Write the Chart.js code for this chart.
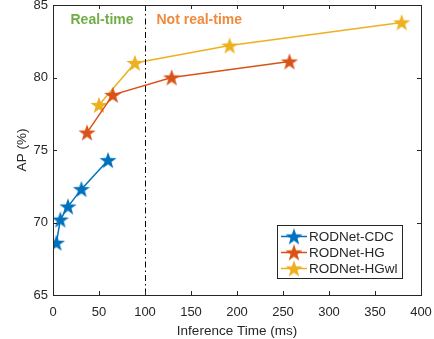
<!DOCTYPE html>
<html>
<head>
<meta charset="utf-8">
<script src="https://cdn.jsdelivr.net/npm/chart.js@4"></script>
<style>
  html, body { margin: 0; padding: 0; background: #fff; }
  #wrap { width: 434px; height: 339px; }
</style>
</head>
<body>
<div id="wrap"><canvas id="c"></canvas></div>
<script>
// data
const seriesNames = ["RODNet-CDC", "RODNet-HG", "RODNet-HGwl"];
const cdcTime = [3.7, 8.0, 16.3, 30.9, 59.8];
const cdcAP = [68.6, 70.2, 71.1, 72.3, 74.3];
const hgTime = [37, 65, 129, 257];
const hgAP = [76.2, 78.8, 80.0, 81.1];
const hgwlTime = [50, 89, 192, 379];
const hgwlAP = [78.1, 81.0, 82.2, 83.8];
const xTicks = [0, 50, 100, 150, 200, 250, 300, 350, 400];
const yTicks = [65, 70, 75, 80, 85];
const realTimeLimit = 100;

const colors = ["#0072BD", "#D95319", "#EDB120"];
const INK = "#262626";
const FONT = "Liberation Sans, Arial, Helvetica, sans-serif";

function starImage(color, r) {
  const s = Math.ceil(r * 2 + 2);
  const cv = document.createElement("canvas");
  cv.width = s; cv.height = s;
  const g = cv.getContext("2d");
  const cx = s / 2, cy = s / 2 + r * 0.08, ri = r * 0.4;
  g.beginPath();
  for (let i = 0; i < 10; i++) {
    const a = -Math.PI / 2 + i * Math.PI / 5;
    const rr = i % 2 === 0 ? r : ri;
    g.lineTo(cx + rr * Math.cos(a), cy + rr * Math.sin(a));
  }
  g.closePath();
  g.fillStyle = color;
  g.fill();
  return cv;
}

const stars = colors.map(c => starImage(c, 9));
const toPts = (xs, ys) => xs.map((x, i) => ({ x: x, y: ys[i] }));

const frame = {
  id: "frame",
  afterDraw(chart) {
    const ctx = chart.ctx, a = chart.chartArea;
    const xs = chart.scales.x, ys = chart.scales.y;
    ctx.save();
    // dash-dot boundary
    const px = Math.round(xs.getPixelForValue(realTimeLimit)) + 0.5;
    ctx.strokeStyle = "#000";
    ctx.lineWidth = 1;
    ctx.setLineDash([6, 3, 1.5, 3]);
    ctx.beginPath(); ctx.moveTo(px, a.top); ctx.lineTo(px, a.bottom); ctx.stroke();
    ctx.setLineDash([]);

    // box + inward ticks
    ctx.strokeStyle = INK;
    ctx.lineWidth = 1;
    ctx.strokeRect(Math.round(a.left) + 0.5, Math.round(a.top) + 0.5,
      Math.round(a.right - a.left), Math.round(a.bottom - a.top));
    ctx.beginPath();
    xTicks.forEach(v => {
      const x = Math.round(xs.getPixelForValue(v)) + 0.5;
      ctx.moveTo(x, a.bottom); ctx.lineTo(x, a.bottom - 4);
      ctx.moveTo(x, a.top); ctx.lineTo(x, a.top + 4);
    });
    yTicks.forEach(v => {
      const y = Math.round(ys.getPixelForValue(v)) + 0.5;
      ctx.moveTo(a.left, y); ctx.lineTo(a.left + 4, y);
      ctx.moveTo(a.right, y); ctx.lineTo(a.right - 4, y);
    });
    ctx.stroke();

    // region labels
    ctx.font = "bold 14px " + FONT;
    ctx.textBaseline = "middle";
    ctx.textAlign = "right";
    ctx.fillStyle = "#70AD47";
    ctx.fillText("Real-time", px - 12, a.top + 15);
    ctx.textAlign = "left";
    ctx.fillStyle = "#F08A3E";
    ctx.fillText("Not real-time", px + 11, a.top + 15);

    // legend
    const lx = 277, ly = 225, lw = 125, lh = 53;
    ctx.fillStyle = "#fff";
    ctx.fillRect(lx, ly, lw, lh);
    ctx.strokeStyle = INK;
    ctx.strokeRect(lx + 0.5, ly + 0.5, lw, lh);
    ctx.font = "13.5px " + FONT;
    ctx.textAlign = "left";
    seriesNames.forEach((name, i) => {
      const y = ly + 11.5 + i * 16;
      ctx.strokeStyle = colors[i];
      ctx.lineWidth = 1.5;
      ctx.beginPath(); ctx.moveTo(lx + 4, y); ctx.lineTo(lx + 30, y); ctx.stroke();
      const im = stars[i];
      ctx.drawImage(im, lx + 17 - im.width / 2, y - im.height / 2);
      ctx.fillStyle = INK;
      ctx.fillText(name, lx + 32, y + 1);
    });
    ctx.restore();
  }
};

const mkSet = (i, xs, ys) => ({
  label: seriesNames[i],
  data: toPts(xs, ys),
  showLine: true,
  borderColor: colors[i],
  backgroundColor: colors[i],
  borderWidth: 1.5,
  pointStyle: stars[i],
  pointRadius: 9,
  pointHoverRadius: 9
});

new Chart(document.getElementById("c"), {
  type: "scatter",
  data: {
    datasets: [
      mkSet(0, cdcTime, cdcAP),
      mkSet(1, hgTime, hgAP),
      mkSet(2, hgwlTime, hgwlAP)
    ]
  },
  options: {
    responsive: true,
    maintainAspectRatio: false,
    animation: false,
    layout: { autoPadding: false, padding: { left: 0, top: 5, right: 13, bottom: 0 } },
    plugins: { legend: { display: false }, tooltip: { enabled: false } },
    scales: {
      x: {
        type: "linear", min: 0, max: 400,
        afterBuildTicks: s => { s.ticks = xTicks.map(v => ({ value: v })); },
        grid: { display: false, drawTicks: false },
        border: { display: false },
        ticks: { color: INK, font: { family: FONT, size: 13 }, padding: 10, maxRotation: 0 },
        title: { display: true, text: "Inference Time (ms)", color: INK, font: { family: FONT, size: 13.5 }, padding: { top: 0, bottom: 0 } },
        afterFit: s => { s.height = 44; s.paddingLeft = 0; s.paddingRight = 0; }
      },
      y: {
        type: "linear", min: 65, max: 85,
        afterBuildTicks: s => { s.ticks = yTicks.map(v => ({ value: v })); },
        grid: { display: false, drawTicks: false },
        border: { display: false },
        ticks: { color: INK, font: { family: FONT, size: 13 }, padding: 5 },
        title: { display: true, text: "AP (%)", color: INK, font: { family: FONT, size: 13.5 }, padding: { top: 14, bottom: 0 } },
        afterFit: s => { s.width = 53; s.paddingTop = 0; s.paddingBottom = 0; }
      }
    }
  },
  plugins: [frame]
});
</script>
</body>
</html>
